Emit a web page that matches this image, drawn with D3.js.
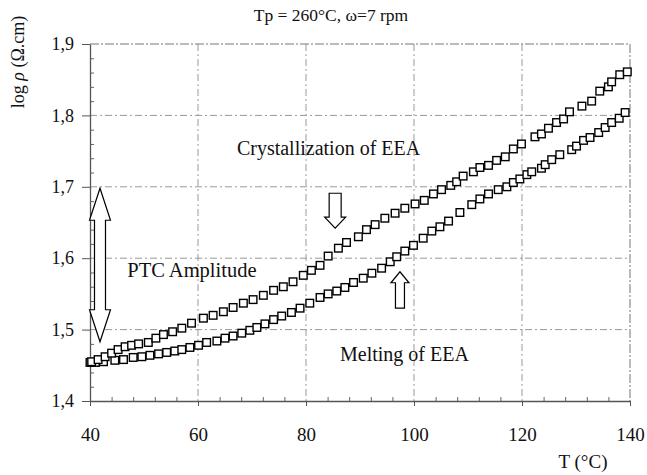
<!DOCTYPE html>
<html>
<head>
<meta charset="utf-8">
<script src="https://cdn.jsdelivr.net/npm/d3@7"></script>
<style>
  body { margin: 0; background: #fff; }
  text { font-family: "Liberation Serif", "Times New Roman", serif; fill: #111; }
</style>
</head>
<body>
<div id="chart"></div>
<script>
// cooling run (crystallization) - upper curve
var upperT = [40.3, 41.5, 42.8, 44.0, 45.2, 46.5, 47.7, 49.0, 50.8, 52.2,
  53.6, 55.3, 57.0, 58.8, 61.0, 62.8, 64.7, 66.5, 68.4, 70.2,
  72.1, 74.0, 75.8, 77.6, 79.5, 81.0, 82.6, 84.1, 86.0, 87.5,
  89.7, 91.2, 92.8, 94.6, 96.5, 98.3, 100.2, 101.9, 103.6, 105.1,
  106.8, 107.9, 109.1, 111.0, 112.2, 113.8, 115.3, 116.9, 118.4, 119.9,
  122.4, 123.6, 124.9, 126.4, 127.7, 128.8, 131.1, 132.9, 134.4, 136.0,
  136.6, 138.1, 139.5];
var upperRho = [1.455, 1.458, 1.462, 1.467, 1.472, 1.476, 1.478, 1.480, 1.482, 1.488,
  1.493, 1.497, 1.502, 1.509, 1.516, 1.520, 1.525, 1.531, 1.537, 1.542,
  1.548, 1.555, 1.560, 1.567, 1.576, 1.583, 1.590, 1.603, 1.614, 1.622,
  1.630, 1.640, 1.647, 1.656, 1.663, 1.670, 1.676, 1.681, 1.690, 1.696,
  1.702, 1.707, 1.715, 1.721, 1.727, 1.730, 1.737, 1.742, 1.753, 1.760,
  1.770, 1.774, 1.782, 1.790, 1.795, 1.805, 1.813, 1.820, 1.834, 1.840,
  1.847, 1.857, 1.861];

// heating run (melting) - lower curve
var lowerT = [40.0, 41.0, 42.5, 44.6, 46.2, 48.0, 49.6, 51.1, 52.7, 54.2,
  55.7, 57.0, 58.5, 60.1, 61.6, 63.5, 65.0, 66.5, 68.1, 69.6,
  70.9, 72.4, 74.0, 75.5, 77.3, 78.9, 80.7, 82.6, 84.1, 85.7,
  87.2, 88.8, 90.6, 92.2, 94.0, 95.6, 96.8, 98.3, 99.9, 101.7,
  103.3, 104.8, 106.4, 108.5, 110.7, 112.2, 113.8, 115.6, 117.2, 118.4,
  119.6, 120.9, 121.8, 123.6, 124.3, 125.5, 127.0, 129.2, 130.1, 131.4,
  132.6, 134.2, 135.4, 136.6, 138.0, 139.1];
var lowerRho = [1.454, 1.454, 1.455, 1.457, 1.458, 1.461, 1.462, 1.464, 1.466, 1.468,
  1.470, 1.472, 1.475, 1.478, 1.482, 1.484, 1.488, 1.491, 1.495, 1.499,
  1.503, 1.508, 1.514, 1.519, 1.524, 1.530, 1.537, 1.545, 1.550, 1.554,
  1.559, 1.566, 1.572, 1.579, 1.586, 1.595, 1.602, 1.610, 1.618, 1.628,
  1.638, 1.644, 1.652, 1.664, 1.675, 1.683, 1.690, 1.696, 1.700, 1.706,
  1.711, 1.717, 1.721, 1.726, 1.731, 1.738, 1.745, 1.752, 1.757, 1.765,
  1.769, 1.776, 1.783, 1.790, 1.796, 1.804];

var xTicks = [40, 60, 80, 100, 120, 140];
var yTicks = [1.4, 1.5, 1.6, 1.7, 1.8, 1.9];
var yTickLabels = ["1,4", "1,5", "1,6", "1,7", "1,8", "1,9"];

var margin = { top: 44, right: 17, bottom: 74, left: 90 },
  width = 647 - margin.left - margin.right,
  height = 475 - margin.top - margin.bottom;

var svg = d3.select("#chart")
  .append("svg")
  .attr("width", 647)
  .attr("height", 475);

var g = svg.append("g")
  .attr("transform", "translate(" + margin.left + "," + margin.top + ")");

var x = d3.scaleLinear().domain([40, 140]).range([0, width]);
var y = d3.scaleLinear().domain([1.4, 1.9]).range([height, 0]);

// grid lines
g.append("g")
  .selectAll("line")
  .data(xTicks.slice(1, -1))
  .enter()
  .append("line")
  .attr("x1", function (d) { return x(d); })
  .attr("x2", function (d) { return x(d); })
  .attr("y1", 0)
  .attr("y2", height)
  .attr("stroke", "#999")
  .attr("stroke-width", 1)
  .attr("stroke-dasharray", "7,3,2,3");

g.append("g")
  .selectAll("line")
  .data(yTicks.slice(1, -1))
  .enter()
  .append("line")
  .attr("x1", 0)
  .attr("x2", width)
  .attr("y1", function (d) { return y(d); })
  .attr("y2", function (d) { return y(d); })
  .attr("stroke", "#999")
  .attr("stroke-width", 1)
  .attr("stroke-dasharray", "7,3,2,3");

// top and right frame (dashed like the grid)
g.append("line")
  .attr("x1", 0).attr("x2", width).attr("y1", 0).attr("y2", 0)
  .attr("stroke", "#777").attr("stroke-dasharray", "9,2,2,2");
g.append("line")
  .attr("x1", width).attr("x2", width).attr("y1", 0).attr("y2", height)
  .attr("stroke", "#777").attr("stroke-dasharray", "9,2,2,2");

// minor ticks (inside)
var xAxisMinor = d3.axisBottom(x)
  .tickValues(d3.range(44, 140, 4).filter(function (d) { return d % 20 !== 0; }))
  .tickSize(-4)
  .tickFormat("");
g.append("g")
  .attr("transform", "translate(0," + height + ")")
  .call(xAxisMinor)
  .call(function (s) { s.select(".domain").remove(); })
  .selectAll("line").attr("stroke", "#666");

var yAxisMinor = d3.axisLeft(y)
  .tickValues(d3.range(1.42, 1.9, 0.02).filter(function (d) { return Math.abs(d * 10 - Math.round(d * 10)) > 0.01; }))
  .tickSize(-4)
  .tickFormat("");
g.append("g")
  .call(yAxisMinor)
  .call(function (s) { s.select(".domain").remove(); })
  .selectAll("line").attr("stroke", "#666");

// major axes
var xAxis = d3.axisBottom(x)
  .tickValues(xTicks)
  .tickSize(5)
  .tickSizeOuter(0)
  .tickPadding(22)
  .tickFormat(d3.format("d"));

var xg = g.append("g")
  .attr("transform", "translate(0," + height + ")")
  .call(xAxis);
xg.select(".domain").attr("stroke", "#555").attr("stroke-width", 1.3);
xg.selectAll("line").attr("stroke", "#555");
xg.selectAll("text")
  .style("font-size", "19px")
  .style("font-family", "Liberation Serif");

var yAxis = d3.axisLeft(y)
  .tickValues(yTicks)
  .tickSize(8)
  .tickSizeOuter(0)
  .tickPadding(8)
  .tickFormat(function (d, i) { return yTickLabels[i]; });

var yg = g.append("g").call(yAxis);
yg.select(".domain").attr("stroke", "#555").attr("stroke-width", 1.3);
yg.selectAll("line").attr("stroke", "#555");
yg.selectAll("text")
  .style("font-size", "18px")
  .style("font-family", "Liberation Serif");

// data markers
function drawSeries(ts, vals) {
  var pts = ts.map(function (t, i) { return { t: t, v: vals[i] }; });
  g.append("g")
    .selectAll("rect")
    .data(pts)
    .enter()
    .append("rect")
    .attr("x", function (d) { return x(d.t) - 3.8; })
    .attr("y", function (d) { return y(d.v) - 3.8; })
    .attr("width", 7.6)
    .attr("height", 7.6)
    .attr("fill", "#fff")
    .attr("stroke", "#000")
    .attr("stroke-width", 1.4);
}
drawSeries(lowerT, lowerRho);
drawSeries(upperT, upperRho);

// hollow arrows
function arrow(cx, yFrom, yTo, shaftW, headW, headL, both) {
  var dir = yTo > yFrom ? 1 : -1;
  var pts = [];
  if (both) {
    pts.push([cx, yFrom]);
    pts.push([cx + headW / 2, yFrom + dir * headL]);
    pts.push([cx + shaftW / 2, yFrom + dir * headL]);
  } else {
    pts.push([cx + shaftW / 2, yFrom]);
  }
  pts.push([cx + shaftW / 2, yTo - dir * headL]);
  pts.push([cx + headW / 2, yTo - dir * headL]);
  pts.push([cx, yTo]);
  pts.push([cx - headW / 2, yTo - dir * headL]);
  pts.push([cx - shaftW / 2, yTo - dir * headL]);
  if (both) {
    pts.push([cx - shaftW / 2, yFrom + dir * headL]);
    pts.push([cx - headW / 2, yFrom + dir * headL]);
  } else {
    pts.push([cx - shaftW / 2, yFrom]);
  }
  g.append("polygon")
    .attr("points", pts.map(function (p) { return p.join(","); }).join(" "))
    .attr("fill", "#fff")
    .attr("stroke", "#000")
    .attr("stroke-width", 1.2);
}
arrow(x(41.85), y(1.698), y(1.483), 11, 21, 32, true);
arrow(x(85.4), y(1.691), y(1.642), 12, 21, 11, false);
arrow(x(97.4), y(1.530), y(1.581), 9, 18, 11, false);

// annotations
g.append("text")
  .attr("x", x(46.9))
  .attr("y", y(1.574))
  .style("font-size", "20.5px")
  .text("PTC Amplitude");

g.append("text")
  .attr("x", x(67.2))
  .attr("y", y(1.745))
  .style("font-size", "20px")
  .text("Crystallization of EEA");

g.append("text")
  .attr("x", x(86.3))
  .attr("y", y(1.456))
  .style("font-size", "20px")
  .text("Melting of EEA");

// title
svg.append("text")
  .attr("x", 331)
  .attr("y", 21)
  .attr("text-anchor", "middle")
  .style("font-size", "17.5px")
  .text("Tp = 260\u00b0C, \u03c9=7 rpm");

// axis titles
svg.append("text")
  .attr("x", 583)
  .attr("y", 468)
  .attr("text-anchor", "middle")
  .style("font-size", "19px")
  .text("T (\u00b0C)");

svg.append("text")
  .attr("transform", "translate(24,62) rotate(-90)")
  .attr("text-anchor", "middle")
  .style("font-size", "18px")
  .html("log <tspan font-style='italic'>\u03c1</tspan> (\u03a9.cm)");
</script>
</body>
</html>
